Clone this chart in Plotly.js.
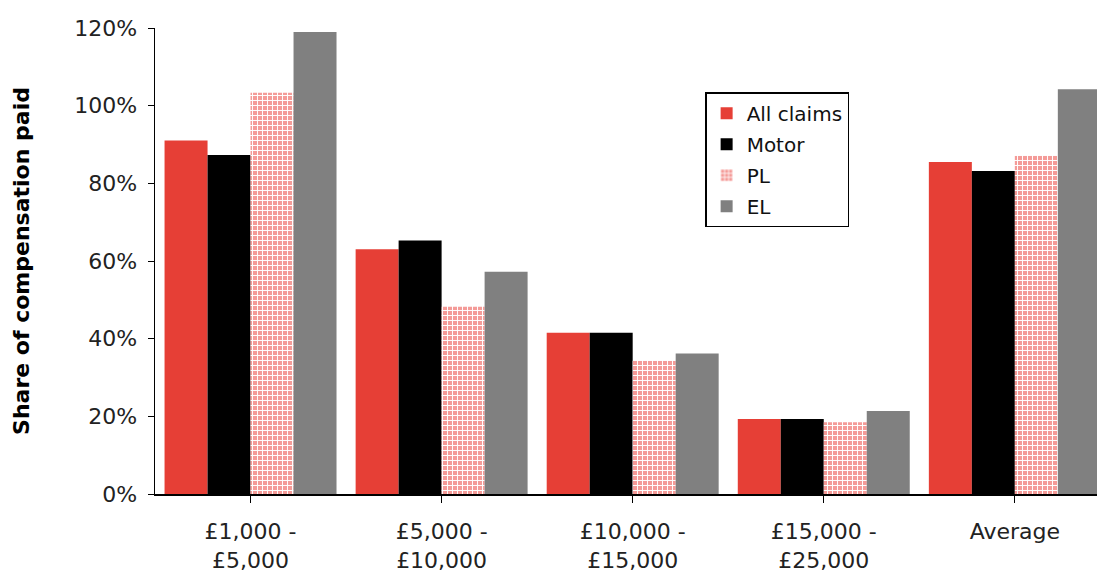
<!DOCTYPE html>
<html>
<head>
<meta charset="utf-8">
<script src="https://cdn.plot.ly/plotly-3.0.1.min.js"></script>
<style>html,body{margin:0;padding:0;background:#fff;}#chart{width:1097px;height:571px;}</style>
</head>
<body>
<div id="chart"></div>
<script>
var categories = ["£1,000 -<br>£5,000", "£5,000 -<br>£10,000", "£10,000 -<br>£15,000", "£15,000 -<br>£25,000", "Average"];
var allClaims = [91, 63, 41.5, 19.3, 85.5];
var motor = [87.3, 65.3, 41.5, 19.3, 83.2];
var pl = [103.3, 48.2, 34.3, 18.5, 87.3];
var el = [119, 57.2, 36.2, 21.4, 104.2];
var seriesNames = ["All claims", "Motor", "PL", "EL"];

var xs = [0, 1, 2, 3, 4];
var traces = [
  {type: "bar", name: seriesNames[0], legendgroup: "a", x: xs, y: allClaims, marker: {color: "#e63f36"}},
  {type: "bar", name: seriesNames[1], legendgroup: "b", x: xs, y: motor, marker: {color: "#000000"}},
  {type: "bar", name: seriesNames[2], legendgroup: "c", x: xs, y: pl, marker: {color: "#f49b98", pattern: {shape: "+", bgcolor: "#f49b98", fgcolor: "#ffffff", size: 5, solidity: 0.35}}},
  {type: "bar", name: seriesNames[3], legendgroup: "d", x: xs, y: el, marker: {color: "#808080"}}
];

var layout = {
  width: 1097, height: 571,
  margin: {l: 155, r: 0, t: 28, b: 77},
  paper_bgcolor: "#fff", plot_bgcolor: "#fff",
  barmode: "group", bargap: 0.1, bargroupgap: 0,
  font: {family: "DejaVu Sans, sans-serif", size: 20, color: "#222"},
  xaxis: {
    range: [-0.5, 4.43], tickmode: "array", tickvals: xs, ticktext: categories,
    tickson: "boundaries", ticks: "outside", ticklen: 7, tickcolor: "#000",
    showline: true, linecolor: "#000", linewidth: 1.5, showgrid: false, zeroline: false,
    ticklabelstandoff: 10,
    tickfont: {family: "DejaVu Sans, sans-serif", size: 22, color: "#222"}
  },
  yaxis: {
    range: [0, 120], tickvals: [0, 20, 40, 60, 80, 100, 120],
    ticktext: ["0%", "20%", "40%", "60%", "80%", "100%", "120%"],
    ticks: "outside", ticklen: 6, tickcolor: "#000",
    showline: true, linecolor: "#000", linewidth: 1.5, showgrid: false, zeroline: false,
    ticklabelstandoff: 6,
    tickfont: {family: "DejaVu Sans, sans-serif", size: 22, color: "#222"},
    title: {text: "<b>Share of compensation paid</b>", font: {family: "DejaVu Sans, sans-serif", size: 22, color: "#000"}, standoff: 38}
  },
  legend: {
    x: 0.584, y: 0.862, xanchor: "left", yanchor: "top",
    bordercolor: "#000", borderwidth: 1.5, bgcolor: "#fff",
    font: {family: "DejaVu Sans, sans-serif", size: 20, color: "#111"}, tracegroupgap: 2, itemwidth: 30
  },
  showlegend: true
};

Plotly.newPlot("chart", traces, layout, {displayModeBar: false, staticPlot: true});
</script>
</body>
</html>
